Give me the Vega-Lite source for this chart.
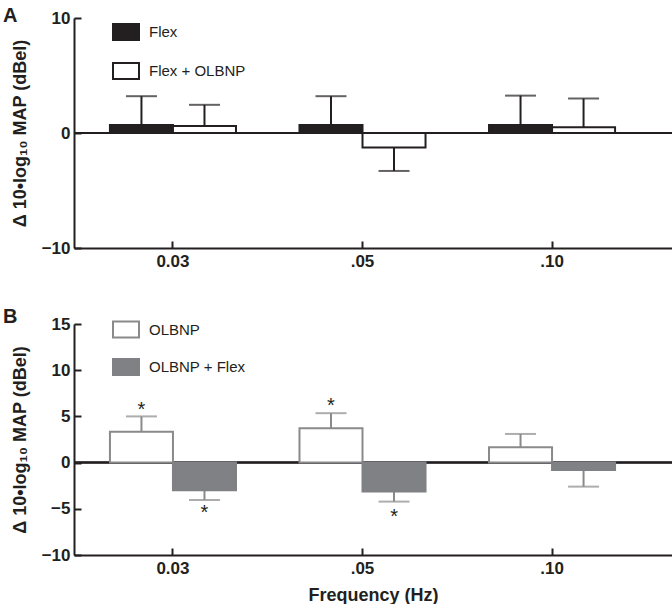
{
  "$schema": "https://vega.github.io/schema/vega-lite/v6.json",
  "padding": {"left": 3, "top": 6, "right": 0, "bottom": 0},
  "bounds": "flush",
  "spacing": 76,
  "background": "white",
  "resolve": {
    "scale": {"fill": "independent", "stroke": "independent", "xOffset": "independent", "y": "independent"},
    "legend": {"fill": "independent", "stroke": "independent"}
  },
  "config": {
    "view": {"stroke": null},
    "font": "Liberation Sans",
    "axis": {
      "labelFont": "Liberation Sans", "labelFontSize": 17, "labelFontWeight": "bold", "labelColor": "#231f20",
      "titleFont": "Liberation Sans", "titleFontSize": 18, "titleFontWeight": "bold", "titleColor": "#231f20",
      "domainColor": "#231f20", "domainWidth": 2, "tickColor": "#231f20", "tickWidth": 2, "tickSize": -7,
      "grid": false, "labelPadding": 11
    },
    "legend": {
      "labelFont": "Liberation Sans", "labelFontSize": 15, "labelColor": "#231f20",
      "symbolType": "M-1,-0.6154H1V0.6154H-1Z", "symbolSize": 676, "symbolStrokeWidth": 2,
      "rowPadding": 12, "labelOffset": 9, "padding": 0
    }
  },
  "datasets": {
    "a": [
      {"freq": "0.03", "group": "Flex", "value": 0.7, "err": 3.2},
      {"freq": "0.03", "group": "Flex + OLBNP", "value": 0.6, "err": 2.45},
      {"freq": ".05", "group": "Flex", "value": 0.7, "err": 3.2},
      {"freq": ".05", "group": "Flex + OLBNP", "value": -1.25, "err": -3.3},
      {"freq": ".10", "group": "Flex", "value": 0.7, "err": 3.25},
      {"freq": ".10", "group": "Flex + OLBNP", "value": 0.5, "err": 3.0}
    ],
    "b": [
      {"freq": "0.03", "group": "OLBNP", "value": 3.35, "err": 5.0, "star": 6.2},
      {"freq": "0.03", "group": "OLBNP + Flex", "value": -3.0, "err": -4.05, "star": -4.9},
      {"freq": ".05", "group": "OLBNP", "value": 3.72, "err": 5.35, "star": 6.7},
      {"freq": ".05", "group": "OLBNP + Flex", "value": -3.14, "err": -4.22, "star": -5.3},
      {"freq": ".10", "group": "OLBNP", "value": 1.66, "err": 3.1, "star": null},
      {"freq": ".10", "group": "OLBNP + Flex", "value": -0.79, "err": -2.6, "star": null}
    ]
  },
  "vconcat": [
    {
      "width": 598, "height": 230,
      "data": {"name": "a"},
      "title": {"text": "A", "anchor": "start", "frame": "group", "fontSize": 20, "fontWeight": "bold", "font": "Liberation Sans", "color": "#231f20", "dx": -71, "offset": -17},
      "layer": [
        {
          "mark": {"type": "rule", "color": "#231f20", "strokeWidth": 1.5},
          "encoding": {"y": {"datum": 0, "type": "quantitative", "scale": {"domain": [-10, 10], "nice": false}, "axis": {"values": [-10, 0, 10], "title": "Δ 10•log₁₀ MAP (dBel)", "titlePadding": 12}}}
        },
        {
          "mark": {"type": "rule", "color": "#231f20", "strokeWidth": 2},
          "encoding": {
            "x": {"field": "freq", "type": "nominal", "sort": ["0.03", ".05", ".10"], "scale": {"paddingInner": 0.335, "paddingOuter": 0.245, "align": 0.387}, "axis": {"title": null, "labelAngle": 0, "labelPadding": 12}},
            "xOffset": {"field": "group", "type": "nominal", "sort": ["Flex", "Flex + OLBNP"], "scale": {"paddingInner": 0, "paddingOuter": 0}},
            "y": {"field": "value", "type": "quantitative", "scale": {"domain": [-10, 10], "nice": false}, "axis": {"values": [-10, 0, 10], "title": "Δ 10•log₁₀ MAP (dBel)", "titlePadding": 12}},
            "y2": {"field": "err"}
          }
        },
        {
          "mark": {"type": "tick", "color": "#231f20", "thickness": 2, "size": 31},
          "encoding": {
            "x": {"field": "freq", "type": "nominal", "sort": ["0.03", ".05", ".10"], "scale": {"paddingInner": 0.335, "paddingOuter": 0.245, "align": 0.387}, "axis": {"title": null, "labelAngle": 0, "labelPadding": 12}},
            "xOffset": {"field": "group", "type": "nominal", "sort": ["Flex", "Flex + OLBNP"], "scale": {"paddingInner": 0, "paddingOuter": 0}},
            "y": {"field": "err", "type": "quantitative", "scale": {"domain": [-10, 10], "nice": false}, "axis": {"values": [-10, 0, 10], "title": "Δ 10•log₁₀ MAP (dBel)", "titlePadding": 12}}
          }
        },
        {
          "mark": {"type": "bar", "strokeWidth": 2},
          "encoding": {
            "x": {"field": "freq", "type": "nominal", "sort": ["0.03", ".05", ".10"], "scale": {"paddingInner": 0.335, "paddingOuter": 0.245, "align": 0.387}, "axis": {"title": null, "labelAngle": 0, "labelPadding": 12}},
            "xOffset": {"field": "group", "type": "nominal", "sort": ["Flex", "Flex + OLBNP"], "scale": {"paddingInner": 0, "paddingOuter": 0}},
            "y": {"field": "value", "type": "quantitative", "scale": {"domain": [-10, 10], "nice": false}, "axis": {"values": [-10, 0, 10], "title": "Δ 10•log₁₀ MAP (dBel)", "titlePadding": 12}},
            "fill": {"field": "group", "type": "nominal", "scale": {"domain": ["Flex", "Flex + OLBNP"], "range": ["#231f20", "#ffffff"]}, "legend": {"title": null, "orient": "none", "legendX": 38, "legendY": 0}},
            "stroke": {"field": "group", "type": "nominal", "scale": {"domain": ["Flex", "Flex + OLBNP"], "range": ["#231f20", "#231f20"]}, "legend": {"title": null, "orient": "none", "legendX": 38, "legendY": 0}}
          }
        }
      ]
    },
    {
      "width": 598, "height": 231,
      "data": {"name": "b"},
      "title": {"text": "B", "anchor": "start", "frame": "group", "fontSize": 20, "fontWeight": "bold", "font": "Liberation Sans", "color": "#231f20", "dx": -71, "offset": -12},
      "layer": [
        {
          "mark": {"type": "rule", "color": "#231f20", "strokeWidth": 1.5},
          "encoding": {"y": {"datum": 0, "type": "quantitative", "scale": {"domain": [-10, 15], "nice": false}, "axis": {"values": [-10, -5, 0, 5, 10, 15], "title": "Δ 10•log₁₀ MAP (dBel)", "titlePadding": 12}}}
        },
        {
          "mark": {"type": "rule", "color": "#8a8a8a", "strokeWidth": 2},
          "encoding": {
            "x": {"field": "freq", "type": "nominal", "sort": ["0.03", ".05", ".10"], "scale": {"paddingInner": 0.335, "paddingOuter": 0.245, "align": 0.387}, "axis": {"title": "Frequency (Hz)", "labelAngle": 0, "labelPadding": 12, "titlePadding": 10}},
            "xOffset": {"field": "group", "type": "nominal", "sort": ["OLBNP", "OLBNP + Flex"], "scale": {"paddingInner": 0, "paddingOuter": 0}},
            "y": {"field": "value", "type": "quantitative", "scale": {"domain": [-10, 15], "nice": false}, "axis": {"values": [-10, -5, 0, 5, 10, 15], "title": "Δ 10•log₁₀ MAP (dBel)", "titlePadding": 12}},
            "y2": {"field": "err"}
          }
        },
        {
          "mark": {"type": "tick", "color": "#8a8a8a", "thickness": 2, "size": 31},
          "encoding": {
            "x": {"field": "freq", "type": "nominal", "sort": ["0.03", ".05", ".10"], "scale": {"paddingInner": 0.335, "paddingOuter": 0.245, "align": 0.387}, "axis": {"title": "Frequency (Hz)", "labelAngle": 0, "labelPadding": 12, "titlePadding": 10}},
            "xOffset": {"field": "group", "type": "nominal", "sort": ["OLBNP", "OLBNP + Flex"], "scale": {"paddingInner": 0, "paddingOuter": 0}},
            "y": {"field": "err", "type": "quantitative", "scale": {"domain": [-10, 15], "nice": false}, "axis": {"values": [-10, -5, 0, 5, 10, 15], "title": "Δ 10•log₁₀ MAP (dBel)", "titlePadding": 12}}
          }
        },
        {
          "mark": {"type": "bar", "strokeWidth": 2},
          "encoding": {
            "x": {"field": "freq", "type": "nominal", "sort": ["0.03", ".05", ".10"], "scale": {"paddingInner": 0.335, "paddingOuter": 0.245, "align": 0.387}, "axis": {"title": "Frequency (Hz)", "labelAngle": 0, "labelPadding": 12, "titlePadding": 10}},
            "xOffset": {"field": "group", "type": "nominal", "sort": ["OLBNP", "OLBNP + Flex"], "scale": {"paddingInner": 0, "paddingOuter": 0}},
            "y": {"field": "value", "type": "quantitative", "scale": {"domain": [-10, 15], "nice": false}, "axis": {"values": [-10, -5, 0, 5, 10, 15], "title": "Δ 10•log₁₀ MAP (dBel)", "titlePadding": 12}},
            "fill": {"field": "group", "type": "nominal", "scale": {"domain": ["OLBNP", "OLBNP + Flex"], "range": ["#ffffff", "#808184"]}, "legend": {"title": null, "orient": "none", "legendX": 38, "legendY": -8.5, "rowPadding": 10.5}},
            "stroke": {"field": "group", "type": "nominal", "scale": {"domain": ["OLBNP", "OLBNP + Flex"], "range": ["#8a8a8a", "#808184"]}, "legend": {"title": null, "orient": "none", "legendX": 38, "legendY": -8.5, "rowPadding": 10.5}}
          }
        },
        {
          "transform": [{"filter": "isValid(datum.star)"}],
          "mark": {"type": "text", "text": "*", "fontSize": 20, "dy": 11, "baseline": "alphabetic", "font": "Liberation Sans", "color": "#231f20"},
          "encoding": {
            "x": {"field": "freq", "type": "nominal", "sort": ["0.03", ".05", ".10"], "scale": {"paddingInner": 0.335, "paddingOuter": 0.245, "align": 0.387}, "axis": {"title": "Frequency (Hz)", "labelAngle": 0, "labelPadding": 12, "titlePadding": 10}},
            "xOffset": {"field": "group", "type": "nominal", "sort": ["OLBNP", "OLBNP + Flex"], "scale": {"paddingInner": 0, "paddingOuter": 0}},
            "y": {"field": "star", "type": "quantitative", "scale": {"domain": [-10, 15], "nice": false}, "axis": {"values": [-10, -5, 0, 5, 10, 15], "title": "Δ 10•log₁₀ MAP (dBel)", "titlePadding": 12}}
          }
        }
      ]
    }
  ]
}
